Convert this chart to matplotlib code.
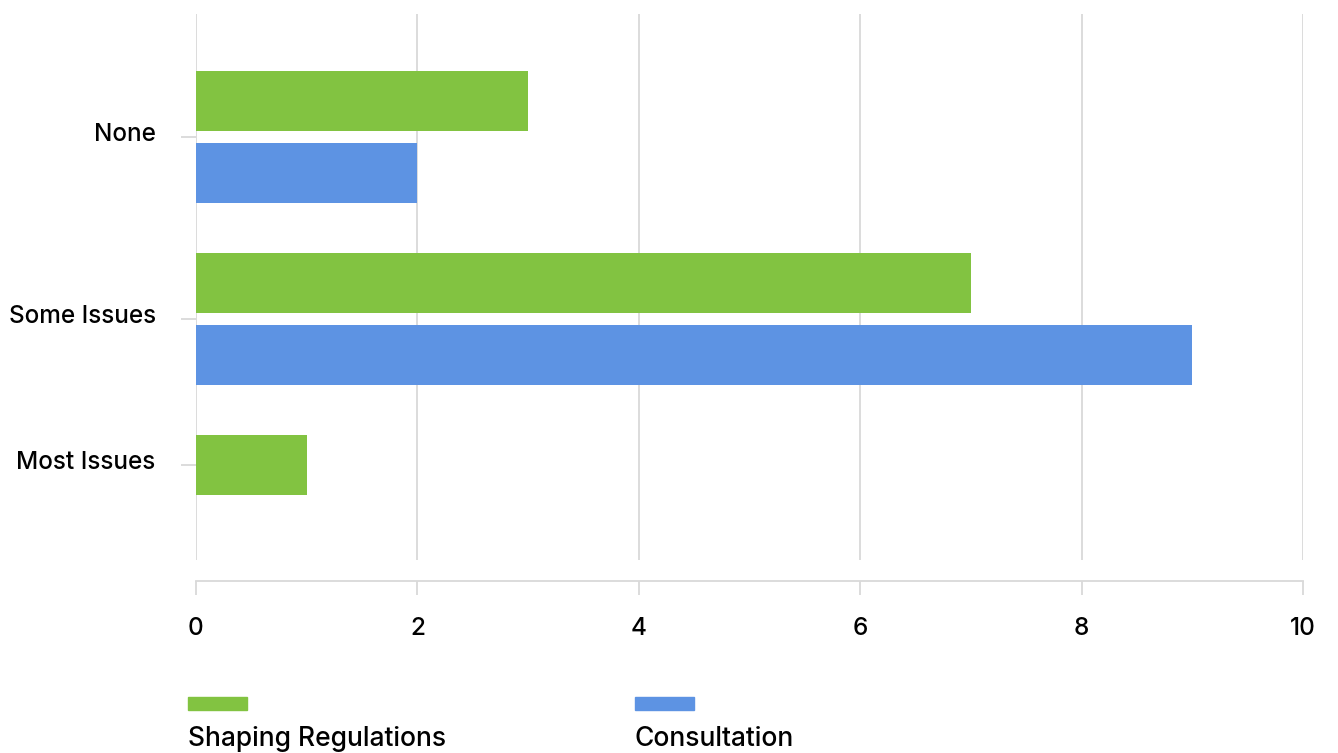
import matplotlib.pyplot as plt
from matplotlib.patches import Rectangle
from matplotlib.transforms import ScaledTranslation
import numpy as np

plt.rcParams['font.family'] = ['Inter', 'DejaVu Sans']
plt.rcParams['font.weight'] = 500

categories = ['None', 'Some Issues', 'Most Issues']
shaping = [3, 7, 1]
consultation = [2, 9, 0]
series_names = ['Shaping Regulations', 'Consultation']
colors = ['#82C341', '#5D93E3']

grid_col = '#D9D9D9'
y = np.arange(len(categories))
h = 0.33
off = 0.2

fig = plt.figure(figsize=(13.38, 7.53), dpi=100)
ax = fig.add_axes([196 / 1338, 1 - 560 / 753, (1303 - 196) / 1338, (560 - 14) / 753])

ax.barh(y - off, shaping, height=h, color=colors[0], zorder=3)
ax.barh(y + off, consultation, height=h, color=colors[1], zorder=3)

ax.set_xlim(0, 10)
ax.set_ylim(len(categories) - 1 + 0.324, -0.676)
ax.set_xticks(np.arange(0, 11, 2))

# label sits at centre of the bars that are actually drawn
tick_pos = [yy if c > 0 else yy - off for yy, c in zip(y, consultation)]
ax.set_yticks(tick_pos)
ax.set_yticklabels(categories)

ax.grid(axis='x', color=grid_col, linewidth=1.3, zorder=0)
for s in ['top', 'right', 'left']:
    ax.spines[s].set_visible(False)
ax.spines['bottom'].set_position(('outward', 15))
ax.spines['bottom'].set_color(grid_col)
ax.spines['bottom'].set_linewidth(1.3)
ax.tick_params(axis='x', length=10, width=1.3, color=grid_col, pad=16, labelsize=17.5)
ax.tick_params(axis='y', length=11, width=1.3, color=grid_col, pad=18, labelsize=17.5)

# y labels sit a little above their tick marks
shift = ScaledTranslation(0, 5 / 100, fig.dpi_scale_trans)
for lab in ax.get_yticklabels():
    lab.set_transform(lab.get_transform() + shift)

# legend: swatch above label
leg_x = [188, 635]
for lx, name, col in zip(leg_x, series_names, colors):
    fig.add_artist(Rectangle((lx / 1338, 1 - 710 / 753), 59 / 1338, 13 / 753,
                             transform=fig.transFigure, color=col))
    fig.text(lx / 1338, 1 - 739 / 753, name, fontsize=19, va='center', ha='left')

fig.savefig('out.png', dpi=100, facecolor='white')
